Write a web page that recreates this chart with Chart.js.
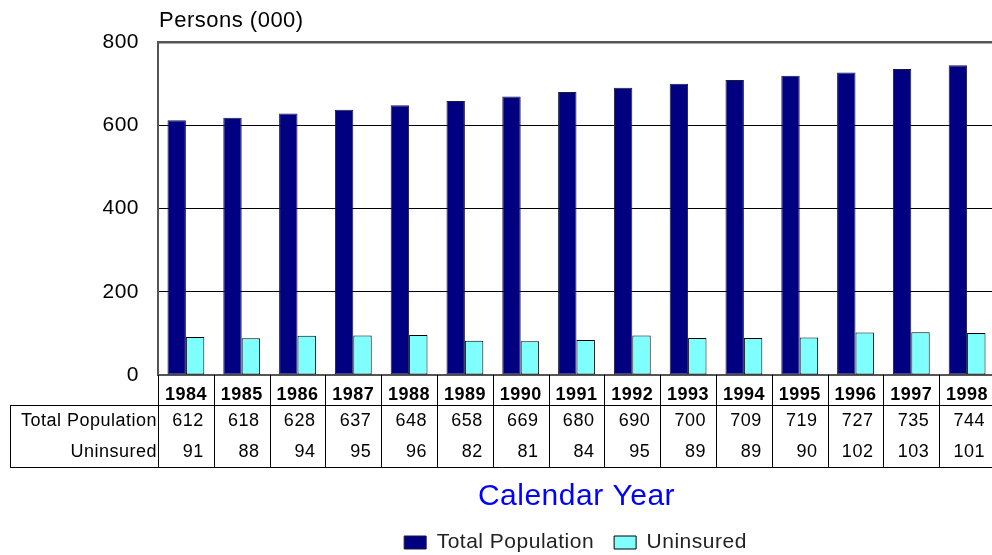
<!DOCTYPE html>
<html>
<head>
<meta charset="utf-8">
<script src="https://cdn.jsdelivr.net/npm/chart.js@4.4.1/dist/chart.umd.min.js"></script>
<style>
  html, body { margin: 0; padding: 0; background: #fff; overflow: hidden; }
</style>
</head>
<body>
<canvas id="myChart" width="1000" height="555"></canvas>
<script>
// Datos del gráfico
const years = ['1984', '1985', '1986', '1987', '1988', '1989', '1990', '1991',
               '1992', '1993', '1994', '1995', '1996', '1997', '1998'];
const totalPopulation = [612, 618, 628, 637, 648, 658, 669, 680, 690, 700, 709, 719, 727, 735, 744];
const uninsured = [91, 88, 94, 95, 96, 82, 81, 84, 95, 89, 89, 90, 102, 103, 101];
const seriesNames = ['Total Population', 'Uninsured'];
const yTicks = [0, 200, 400, 600, 800];
const yTitle = 'Persons (000)';
const xTitle = 'Calendar Year';

const FONT = 'Liberation Sans, Arial, sans-serif';
const SPACING = '0.5px';

// Tabla de datos debajo del eje x, título del eje y, y posición de la leyenda
const tablePlugin = {
    id: 'dataTable',
    beforeLayout(chart) {
        chart.ctx.letterSpacing = SPACING;
    },
    afterLayout(chart) {
        // centrar la leyenda respecto al área del gráfico
        const lg = chart.legend;
        lg.left = chart.chartArea.left - 2;
        lg.right = chart.chartArea.right;
        lg.width = lg.right - lg.left;
    },
    beforeDraw(chart) {
        chart.ctx.letterSpacing = SPACING;
    },
    afterDraw(chart) {
        const ctx = chart.ctx;
        const area = chart.chartArea;
        const xs = chart.scales.x;
        const colW = xs.width / years.length;
        const rowTop = area.bottom + 30;
        const rowH = 31;
        const rowBottom = rowTop + rowH * 2;
        const tableLeft = 10;

        ctx.save();
        ctx.strokeStyle = '#000';
        ctx.lineWidth = 1;
        ctx.beginPath();
        for (let i = 0; i <= years.length; i++) {
            const px = Math.round(area.left + i * colW) + 0.5;
            ctx.moveTo(px, area.bottom);
            ctx.lineTo(px, rowBottom);
        }
        ctx.moveTo(tableLeft, rowTop + 0.5);
        ctx.lineTo(area.right, rowTop + 0.5);
        ctx.moveTo(tableLeft, rowBottom + 0.5);
        ctx.lineTo(area.right, rowBottom + 0.5);
        ctx.moveTo(tableLeft + 0.5, rowTop);
        ctx.lineTo(tableLeft + 0.5, rowBottom);
        ctx.stroke();

        const rows = [[seriesNames[0], totalPopulation], [seriesNames[1], uninsured]];
        ctx.fillStyle = '#000';
        ctx.font = '18px ' + FONT;
        ctx.letterSpacing = SPACING;
        ctx.textBaseline = 'middle';
        rows.forEach((row, r) => {
            const cy = rowTop + rowH * r + rowH / 2 + 1;
            ctx.textAlign = 'right';
            ctx.fillText(row[0], area.left - 1, cy);
            row[1].forEach((v, i) => {
                const right = xs.getPixelForValue(i) + colW / 2 - 10;
                ctx.fillText(String(v), right, cy);
            });
        });

        // título del eje y
        ctx.font = '22px ' + FONT;
        ctx.textAlign = 'left';
        ctx.fillText(yTitle, area.left + 1, 21);
        ctx.restore();
    }
};

var ctx = document.getElementById('myChart').getContext('2d');
var myChart = new Chart(ctx, {
    type: 'bar',
    data: {
        labels: years,
        datasets: [{
            label: seriesNames[0],
            data: totalPopulation,
            backgroundColor: '#000080',
            borderColor: '#1a1a40',
            borderWidth: 1,
            borderSkipped: false,
            barPercentage: 1,
            categoryPercentage: 0.66
        }, {
            label: seriesNames[1],
            data: uninsured,
            backgroundColor: '#80ffff',
            borderColor: '#000000',
            borderWidth: 1,
            borderSkipped: false,
            barPercentage: 1,
            categoryPercentage: 0.66
        }]
    },
    options: {
        responsive: false,
        animation: false,
        layout: {
            padding: { top: 42, right: 5, left: 0, bottom: -8 }
        },
        plugins: {
            tooltip: { enabled: false },
            legend: {
                position: 'bottom',
                labels: {
                    boxWidth: 22,
                    boxHeight: 13,
                    padding: 20,
                    color: '#222',
                    font: { family: FONT, size: 21 }
                }
            }
        },
        scales: {
            x: {
                grid: { display: false, drawTicks: false },
                border: { color: '#555', width: 2 },
                ticks: {
                    color: '#000',
                    padding: 9,
                    maxRotation: 0,
                    autoSkip: false,
                    font: { family: FONT, size: 18, weight: 'bold' }
                },
                title: {
                    display: true,
                    text: xTitle,
                    color: '#0000ff',
                    padding: { top: 0, bottom: 0 },
                    font: { family: FONT, size: 30, lineHeight: 1 }
                },
                afterFit(scale) { scale.height = 137; }
            },
            y: {
                min: yTicks[0],
                max: yTicks[yTicks.length - 1],
                afterBuildTicks(scale) { scale.ticks = yTicks.map(v => ({ value: v })); },
                grid: {
                    drawTicks: false,
                    color: c => c.tick && c.tick.value === 800 ? '#555' : '#000',
                    lineWidth: c => c.tick && c.tick.value === 800 ? 2.5 : 1
                },
                border: { color: '#555', width: 2 },
                ticks: {
                    color: '#000',
                    padding: 19,
                    font: { family: FONT, size: 21 }
                },
                afterFit(scale) { scale.width = 158; }
            }
        }
    },
    plugins: [tablePlugin]
});
</script>
</body>
</html>
